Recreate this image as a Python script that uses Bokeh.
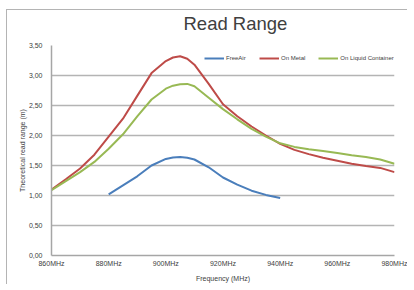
from bokeh.plotting import figure
from bokeh.models import Range1d, FixedTicker, Legend, LegendItem, Title
from bokeh.embed import file_html
from bokeh.resources import INLINE

# ---- data ----
title_text = "Read Range"
x_label = "Frequency (MHz)"
y_label = "Theoretical read range (m)"

x_ticks = [860, 880, 900, 920, 940, 960, 980]
x_tick_labels = ["860MHz", "880MHz", "900MHz", "920MHz", "940MHz", "960MHz", "980MHz"]
y_ticks = [0.0, 0.5, 1.0, 1.5, 2.0, 2.5, 3.0, 3.5]
y_tick_labels = ["0,00", "0,50", "1,00", "1,50", "2,00", "2,50", "3,00", "3,50"]

free_air_freq = [880, 885, 890, 895, 900, 902.5, 905, 907.5, 910, 915, 920, 925, 930, 935, 940]
free_air_range = [1.02, 1.17, 1.32, 1.50, 1.61, 1.635, 1.64, 1.63, 1.60, 1.47, 1.30, 1.18,
                  1.08, 1.01, 0.96]

metal_freq = [860, 865, 870, 875, 880, 885, 890, 895, 900, 902.5, 905, 907.5, 910, 915, 920,
              925, 930, 935, 940, 945, 950, 955, 960, 965, 970, 975, 980]
metal_range = [1.10, 1.27, 1.45, 1.68, 1.98, 2.28, 2.66, 3.04, 3.24, 3.30, 3.32, 3.28, 3.18,
               2.86, 2.52, 2.32, 2.15, 2.00, 1.86, 1.76, 1.69, 1.63, 1.58, 1.53, 1.49, 1.46,
               1.39]

liquid_freq = [860, 865, 870, 875, 880, 885, 890, 895, 900, 902.5, 905, 907.5, 910, 915, 920,
               925, 930, 935, 940, 945, 950, 955, 960, 965, 970, 975, 980]
liquid_range = [1.09, 1.24, 1.39, 1.56, 1.78, 2.02, 2.32, 2.60, 2.78, 2.83, 2.855, 2.86, 2.82,
                2.63, 2.44, 2.27, 2.11, 1.98, 1.87, 1.81, 1.77, 1.74, 1.71, 1.67, 1.64, 1.60,
                1.53]

series_names = ["FreeAir", "On Metal", "On Liquid Container"]
series_colors = ["#4A7EBB", "#BE4B48", "#98B954"]

FONT = "Liberation Sans"

p = figure(width=401, height=275, output_backend="svg", toolbar_location=None,
           x_range=Range1d(860, 980), y_range=Range1d(0, 3.5),
           min_border_left=44, min_border_right=14, min_border_top=20, min_border_bottom=30)
p.styles = {"border-left": "1px solid #b4b4b4", "border-top": "1px solid #b4b4b4",
            "margin-left": "6px", "margin-top": "9px"}
p.outline_line_color = None
p.background_fill_color = "white"
p.border_fill_color = "white"

r1 = p.line(free_air_freq, free_air_range, line_color=series_colors[0], line_width=2)
r2 = p.line(metal_freq, metal_range, line_color=series_colors[1], line_width=2)
r3 = p.line(liquid_freq, liquid_range, line_color=series_colors[2], line_width=2)

# spacer between title and plot area (blank text)
p.add_layout(Title(text=" ", text_font=FONT, text_font_size="8.5px", standoff=0), "above")

# title
p.title.text = title_text
p.title.text_font = FONT
p.title.text_font_size = "18.5px"
p.title.text_font_style = "normal"
p.title.text_color = "#404040"
p.title.align = "left"
p.title.offset = 132
p.title.standoff = 0

# axes
p.xaxis.ticker = FixedTicker(ticks=x_ticks)
p.xaxis.major_label_overrides = {t: l for t, l in zip(x_ticks, x_tick_labels)}
p.yaxis.ticker = FixedTicker(ticks=y_ticks)
p.yaxis.major_label_overrides = {t: l for t, l in zip(y_ticks, y_tick_labels)}
for ax in (p.xaxis, p.yaxis):
    ax.major_tick_line_color = None
    ax.minor_tick_line_color = None
    ax.axis_line_color = "#a6a6a6"
    ax.axis_line_width = 1.5
    ax.major_label_text_font = FONT
    ax.major_label_text_font_size = "7px"
    ax.major_label_text_color = "#404040"
    ax.axis_label_text_font = FONT
    ax.axis_label_text_font_size = "7px"
    ax.axis_label_text_font_style = "normal"
    ax.axis_label_text_color = "#404040"
p.xaxis.axis_label = x_label
p.yaxis.axis_label = y_label
p.xaxis.major_label_standoff = -2
p.xaxis.axis_label_standoff = 5
p.yaxis.major_label_standoff = 3
p.yaxis.axis_label_standoff = 0

p.xgrid.grid_line_color = None
p.ygrid.grid_line_color = "#b4b4b4"
p.ygrid.grid_line_width = 1.5

legend = Legend(items=[LegendItem(label=series_names[0], renderers=[r1]),
                       LegendItem(label=series_names[1], renderers=[r2]),
                       LegendItem(label=series_names[2], renderers=[r3])],
                orientation="horizontal", location=(153, 193),
                background_fill_alpha=0, border_line_color=None,
                label_text_font=FONT, label_text_font_size="6px", label_text_color="#404040",
                glyph_width=20, glyph_height=8, label_standoff=2, spacing=13,
                padding=0, margin=0, label_height=8)
p.add_layout(legend)

open("out.html", "w").write(file_html(p, INLINE))
